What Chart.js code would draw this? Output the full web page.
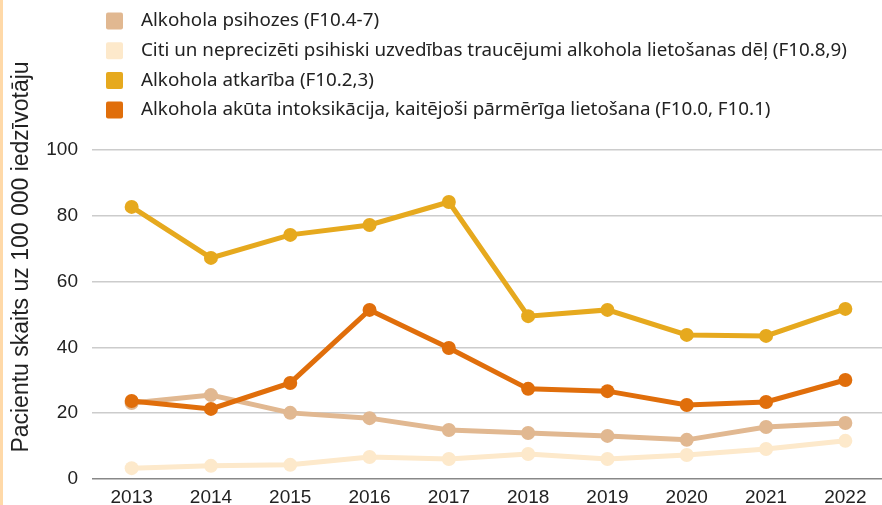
<!DOCTYPE html>
<html>
<head>
<meta charset="utf-8">
<script src="https://cdn.jsdelivr.net/npm/chart.js@4/dist/chart.umd.min.js"></script>
<style>
  body { margin: 0; overflow: hidden; background: #fff; }
  #wrap { position: relative; width: 892px; height: 505px; }
  #strip { position: absolute; left: 0; top: 0; width: 3px; height: 505px; background: #ffd9a8; z-index: 2; }
</style>
</head>
<body>
<div id="strip"></div>
<div id="wrap"><canvas id="chart"></canvas></div>
<script>
// dati
const gadi = ['2013', '2014', '2015', '2016', '2017', '2018', '2019', '2020', '2021', '2022'];
const psihozes = [23.1, 25.5, 20.1, 18.5, 14.9, 14.0, 13.1, 11.9, 15.8, 17.0];
const citi = [3.3, 4.0, 4.3, 6.7, 6.1, 7.6, 6.1, 7.3, 9.1, 11.6];
const atkariba = [82.7, 67.2, 74.2, 77.2, 84.2, 49.5, 51.4, 43.8, 43.5, 51.7];
const intoksikacija = [23.7, 21.3, 29.2, 51.4, 39.8, 27.4, 26.7, 22.5, 23.4, 30.1];
const yTicks = [0, 20, 40, 60, 80, 100];

const nosaukumi = [
  'Alkohola psihozes (F10.4-7)',
  'Citi un neprecizēti psihiski uzvedības traucējumi alkohola lietošanas dēļ (F10.8,9)',
  'Alkohola atkarība (F10.2,3)',
  'Alkohola akūta intoksikācija, kaitējoši pārmērīga lietošana (F10.0, F10.1)'
];
const krasas = ['#e1b891', '#fde9cb', '#e6a91e', '#e06e0b'];
const vertibas = [psihozes, citi, atkariba, intoksikacija];

const yTitle = 'Pacientu skaits uz 100 000 iedzīvotāju';

function ds(i) {
  return {
    label: nosaukumi[i],
    data: vertibas[i],
    borderColor: krasas[i],
    backgroundColor: krasas[i],
    borderWidth: 5,
    pointRadius: 7,
    pointBorderWidth: 0,
    pointBackgroundColor: krasas[i],
    tension: 0,
    order: 4 - i
  };
}

// legenda un ass nosaukums uz kanvas
const zimejumi = {
  id: 'zimejumi',
  afterDraw(chart) {
    const c = chart.ctx;
    c.save();
    chart.data.datasets.forEach((d, i) => {
      const yc = 21 + i * 29.7;
      c.fillStyle = d.backgroundColor;
      c.beginPath();
      c.roundRect(106, yc - 8.5, 17, 17, 2);
      c.fill();
      c.fillStyle = '#222';
      c.font = '18.8px "Noto Sans"';
      c.textBaseline = 'middle';
      c.textAlign = 'left';
      c.fillText(d.label, 141, yc);
    });
    c.translate(22, 257);
    c.rotate(-Math.PI / 2);
    c.fillStyle = '#222';
    c.font = '23px "Liberation Sans"';
    c.textAlign = 'center';
    c.textBaseline = 'middle';
    c.fillText(yTitle, 0, 0);
    c.restore();
  }
};

new Chart(document.getElementById('chart'), {
  type: 'line',
  data: {
    labels: gadi,
    datasets: [ds(0), ds(1), ds(2), ds(3)]
  },
  options: {
    responsive: true,
    maintainAspectRatio: false,
    animation: false,
    layout: { padding: { top: 150, left: 0, right: 0, bottom: 0 } },
    plugins: {
      legend: { display: false },
      tooltip: { enabled: false }
    },
    scales: {
      x: {
        offset: true,
        afterFit(scale) { scale.height = 26; },
        grid: { display: false, drawTicks: false },
        border: { display: false },
        ticks: {
          color: '#222',
          padding: 7,
          font: { family: 'Liberation Sans', size: 19 }
        }
      },
      y: {
        min: 0,
        max: 100,
        afterFit(scale) { scale.width = 92; },
        afterBuildTicks(scale) { scale.ticks = yTicks.map(v => ({ value: v })); },
        border: { display: false },
        grid: {
          drawTicks: false,
          lineWidth: 1.5,
          color: (ctx) => ctx.tick && ctx.tick.value === 0 ? '#888' : '#cccccc'
        },
        ticks: {
          color: '#222',
          padding: 14,
          font: { family: 'Liberation Sans', size: 19 }
        }
      }
    }
  },
  plugins: [zimejumi]
});
</script>
</body>
</html>
